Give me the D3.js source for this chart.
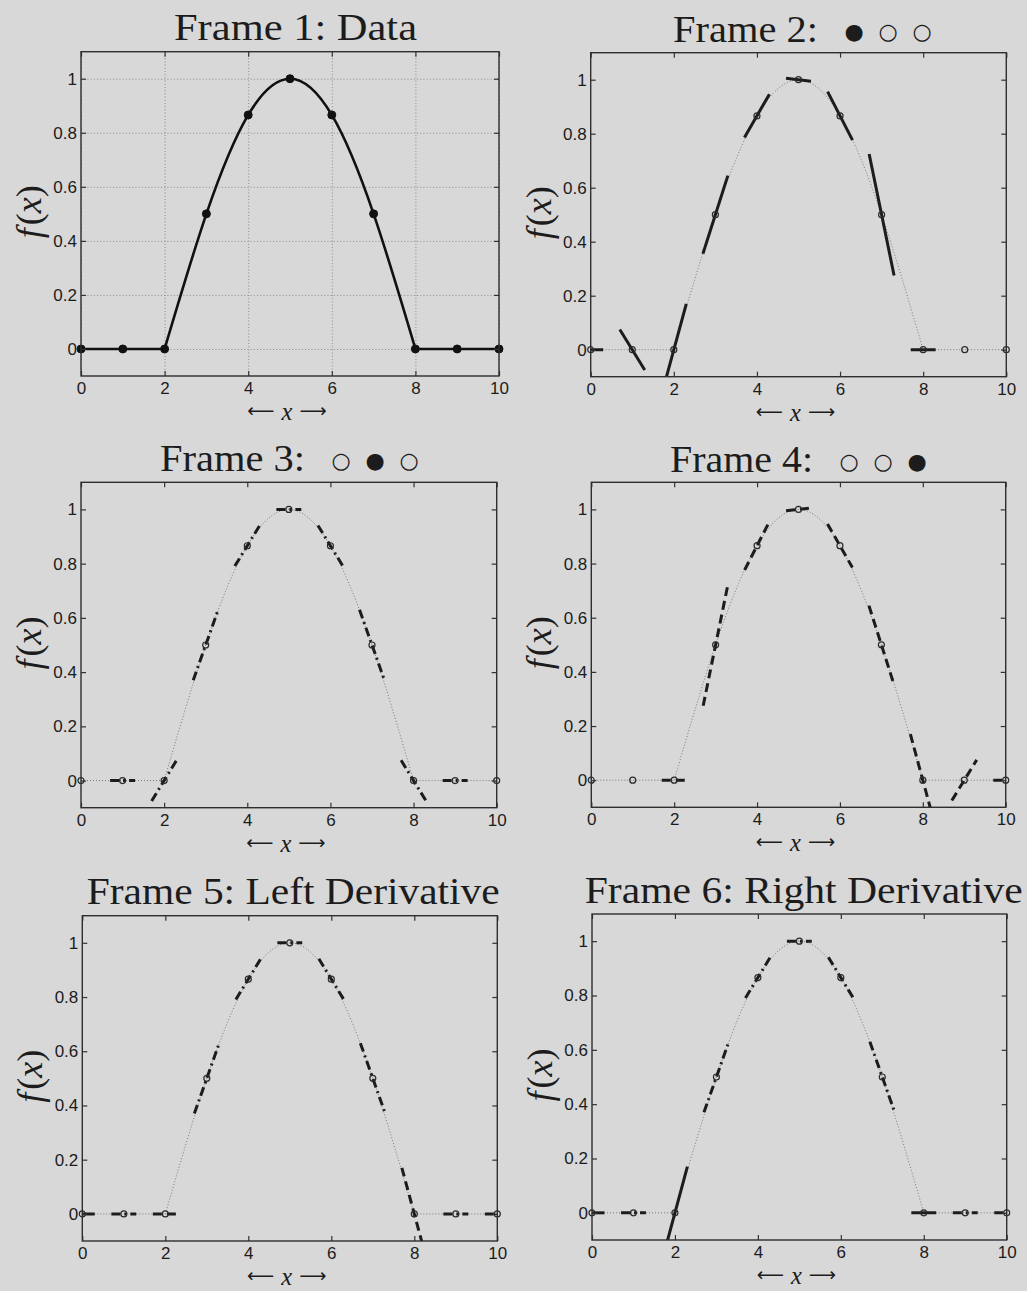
<!DOCTYPE html>
<html>
<head>
<meta charset="utf-8">
<script src="https://cdn.jsdelivr.net/npm/d3@7"></script>
<style>
  html, body { margin: 0; padding: 0; background: #d8d8d8; }
  svg { display: block; }
</style>
</head>
<body>
<svg id="fig" width="1027" height="1291"></svg>
<script>
// Samples of f(x)
const xValues = [0, 1, 2, 3, 4, 5, 6, 7, 8, 9, 10];
const fValues = [0, 0, 0, 0.5, 0.866, 1, 0.866, 0.5, 0, 0, 0];

// Three-point slope estimates at each sample (null where the stencil leaves the data)
const forwardSlope  = [0, -0.25, 0.567, 0.482, 0.268, -0.018, -0.299, -0.75, 0, null, null];
const centralSlope  = [null, 0, 0.25, 0.433, 0.25, 0, -0.25, -0.433, -0.25, 0, null];
const backwardSlope = [null, null, 0, 0.75, 0.299, 0.018, -0.268, -0.482, -0.567, 0.25, 0];

// Stencil used at each sample for the one-sided derivatives
const leftStencil  = ["fwd", "ctr", "bwd", "ctr", "ctr", "ctr", "ctr", "ctr", "bwd", "ctr", "bwd"];
const rightStencil = ["fwd", "ctr", "fwd", "ctr", "ctr", "ctr", "ctr", "ctr", "fwd", "ctr", "bwd"];

// Half width (in x) of each tangent stroke
const tangentHalfSpan = 0.3;

const xTicks = [0, 2, 4, 6, 8, 10];
const xTickLabels = ["0", "2", "4", "6", "8", "10"];
const yTicks = [0, 0.2, 0.4, 0.6, 0.8, 1];
const yTickLabels = ["0", "0.2", "0.4", "0.6", "0.8", "1"];

const frameTitles = ["Frame 1: Data", "Frame 2:", "Frame 3:", "Frame 4:",
                     "Frame 5: Left Derivative", "Frame 6: Right Derivative"];
// Stencil bullets shown after the title: 1 = filled, 0 = hollow
const frameBullets = [null, [1, 0, 0], [0, 1, 0], [0, 0, 1], null, null];

const INK = "#1c1c1c";
const SERIF = "'Liberation Serif', 'Times New Roman', serif";
const SANS = "'Liberation Sans', Arial, Helvetica, sans-serif";

const stencilDash = { fwd: null, ctr: "9,4,2,4", bwd: "9,5" };
const slopeTable = { fwd: forwardSlope, ctr: centralSlope, bwd: backwardSlope };

const panels = [
  { kind: "data",  left: 81,    top: 51.7,  right: 499,    bottom: 376,   titleX: 174,   titleW: 243, titleY: 40 },
  { kind: "fwd",   left: 590.7, top: 52.7,  right: 1006.3, bottom: 376.7, titleX: 673,   titleW: 145, titleY: 41.7 },
  { kind: "ctr",   left: 81,    top: 482.3, right: 496.7,  bottom: 807.7, titleX: 160,   titleW: 145, titleY: 470.7 },
  { kind: "bwd",   left: 591.3, top: 482.3, right: 1005.7, bottom: 807.3, titleX: 670,   titleW: 143, titleY: 471.7 },
  { kind: "left",  left: 82.3,  top: 915.7, right: 497.3,  bottom: 1241,  titleX: 86.7,  titleW: 413, titleY: 904 },
  { kind: "right", left: 592,   top: 914,   right: 1006.7, bottom: 1240,  titleX: 584.7, titleW: 438, titleY: 903 }
];

const svg = d3.select("#fig");
svg.append("rect").attr("width", 1027).attr("height", 1291).attr("fill", "#d8d8d8");
const defs = svg.append("defs");

const pts = xValues.map((x, i) => ({ x, y: fValues[i] }));
// flat left part, the hump, flat right part
const pieces = [
  { data: pts.slice(0, 3), curve: d3.curveLinear },
  { data: pts.slice(2, 9), curve: d3.curveNatural },
  { data: pts.slice(8),    curve: d3.curveLinear }
];

function tangents(kind) {
  return xValues.map((x, i) => {
    const st = kind === "left" ? leftStencil[i] : kind === "right" ? rightStencil[i] : kind;
    const s = slopeTable[st][i];
    return s == null ? null : { x, y: fValues[i], slope: s, st };
  }).filter(d => d);
}

panels.forEach((p, k) => {
  const w = p.right - p.left, h = p.bottom - p.top;
  const sx = d3.scaleLinear().domain([0, 10]).range([0, w]);
  const sy = d3.scaleLinear().domain([-0.1, 1.1]).range([h, 0]);
  const g = svg.append("g").attr("transform", `translate(${p.left},${p.top})`);

  const clipId = "clip" + k;
  defs.append("clipPath").attr("id", clipId)
    .append("rect").attr("width", w).attr("height", h);

  // grid (data frame only)
  if (p.kind === "data") {
    const grid = g.append("g").attr("class", "grid");
    grid.append("g").attr("transform", `translate(0,${h})`)
      .call(d3.axisBottom(sx).tickValues(xTicks).tickSize(-h).tickFormat(""));
    grid.append("g")
      .call(d3.axisLeft(sy).tickValues(yTicks).tickSize(-w).tickFormat(""));
    grid.selectAll(".domain").remove();
    grid.selectAll(".tick line").attr("stroke", "#8a8a8a").attr("stroke-width", 1)
      .attr("stroke-dasharray", "1,2.2");
  }

  const plot = g.append("g").attr("clip-path", `url(#${clipId})`);

  // f(x) curve
  pieces.forEach(pc => {
    const line = d3.line().x(d => sx(d.x)).y(d => sy(d.y)).curve(pc.curve);
    const path = plot.append("path").attr("d", line(pc.data)).attr("fill", "none");
    if (p.kind === "data") {
      path.attr("stroke", "#111").attr("stroke-width", 2.6).attr("stroke-linecap", "round");
    } else {
      path.attr("stroke", "#7a7a7a").attr("stroke-width", 1).attr("stroke-dasharray", "1,2");
    }
  });

  if (p.kind !== "data") {
    // tangent strokes
    plot.selectAll("line.tan").data(tangents(p.kind)).join("line")
      .attr("class", "tan")
      .attr("x1", d => sx(d.x - tangentHalfSpan))
      .attr("y1", d => sy(d.y - d.slope * tangentHalfSpan))
      .attr("x2", d => sx(d.x + tangentHalfSpan))
      .attr("y2", d => sy(d.y + d.slope * tangentHalfSpan))
      .attr("stroke", INK).attr("stroke-width", 3)
      .attr("stroke-dasharray", d => stencilDash[d.st]);
  }

  // sample markers
  g.selectAll("circle.pt").data(pts).join("circle")
    .attr("class", "pt")
    .attr("cx", d => sx(d.x)).attr("cy", d => sy(d.y))
    .attr("r", p.kind === "data" ? 4 : 3)
    .attr("fill", p.kind === "data" ? "#111" : "none")
    .attr("stroke", p.kind === "data" ? "#111" : "#2a2a2a")
    .attr("stroke-width", p.kind === "data" ? 1 : 1.2);

  // axes with inward ticks on all four sides
  const axB = g.append("g").attr("transform", `translate(0,${h})`)
    .call(d3.axisBottom(sx).tickValues(xTicks).tickSize(-5).tickPadding(6)
      .tickFormat((d, i) => xTickLabels[i]));
  const axT = g.append("g")
    .call(d3.axisTop(sx).tickValues(xTicks).tickSize(-5).tickFormat(""));
  const axL = g.append("g")
    .call(d3.axisLeft(sy).tickValues(yTicks).tickSize(-5).tickPadding(4)
      .tickFormat((d, i) => yTickLabels[i]));
  const axR = g.append("g").attr("transform", `translate(${w},0)`)
    .call(d3.axisRight(sy).tickValues(yTicks).tickSize(-5).tickFormat(""));
  [axB, axT, axL, axR].forEach(a => {
    a.select(".domain").remove();
    a.selectAll(".tick line").attr("stroke", "#333").attr("stroke-width", 1.2);
    a.selectAll("text").attr("fill", INK).attr("font-family", SANS).attr("font-size", 17);
  });

  g.append("rect").attr("width", w).attr("height", h)
    .attr("fill", "none").attr("stroke", "#2e2e2e").attr("stroke-width", 1.4);

  // y label f(x)
  const yl = g.append("text")
    .attr("transform", `translate(-40,${h / 2 - 2}) rotate(-90)`)
    .attr("text-anchor", "middle")
    .attr("font-family", SERIF).attr("font-size", 36).attr("fill", INK);
  yl.append("tspan").attr("font-style", "italic").text("f");
  yl.append("tspan").attr("dx", 3).text("(");
  yl.append("tspan").attr("font-style", "italic").text("x");
  yl.append("tspan").text(")");

  // x label
  const xl = g.append("text")
    .attr("x", w / 2 - 3).attr("y", h + 44)
    .attr("text-anchor", "middle")
    .attr("font-family", SERIF).attr("font-size", 24.5).attr("fill", INK);
  xl.append("tspan").attr("font-family", "'DejaVu Sans', sans-serif").attr("font-size", 19)
    .attr("dy", -3).text("\u27F5");
  xl.append("tspan").attr("dx", 7).attr("dy", 3).attr("font-style", "italic").text("x");
  xl.append("tspan").attr("font-family", "'DejaVu Sans', sans-serif").attr("font-size", 19)
    .attr("dx", 7).attr("dy", -3).text("\u27F6");

  // title
  svg.append("text")
    .attr("x", p.titleX).attr("y", p.titleY)
    .attr("font-family", SERIF).attr("font-size", 37).attr("fill", INK)
    .attr("textLength", p.titleW).attr("lengthAdjust", "spacingAndGlyphs")
    .text(frameTitles[k]);

  if (frameBullets[k]) {
    const x0 = p.titleX + p.titleW;
    frameBullets[k].forEach((b, j) => {
      svg.append("text")
        .attr("x", x0 + 36 + j * 34).attr("y", p.titleY - 10.5)
        .attr("text-anchor", "middle").attr("dominant-baseline", "central")
        .attr("font-family", "'DejaVu Sans', sans-serif").attr("font-size", 22)
        .attr("fill", INK)
        .text(b ? "\u25CF" : "\u25CB");
    });
  }
});
</script>
</body>
</html>
